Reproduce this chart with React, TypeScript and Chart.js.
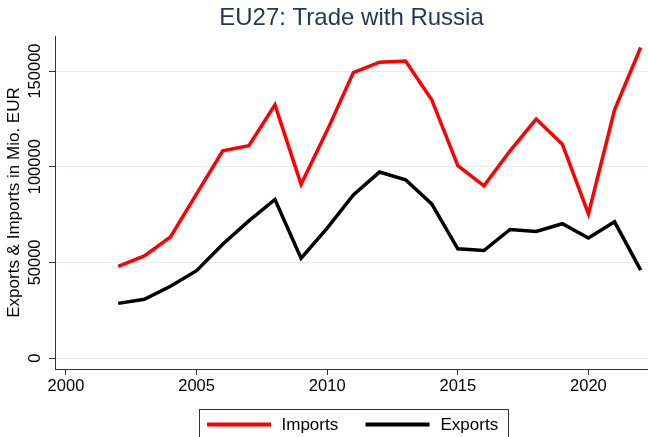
import React, { useEffect, useRef } from "react";
import { Chart, registerables } from "chart.js";

Chart.register(...registerables);

// ---- Data ----
const years = [
  2002, 2003, 2004, 2005, 2006, 2007, 2008, 2009, 2010, 2011, 2012,
  2013, 2014, 2015, 2016, 2017, 2018, 2019, 2020, 2021, 2022,
];
const imports = [
  47900, 53400, 63300, 85800, 108300, 111000, 132300, 90800, 119000, 149200,
  154600, 155200, 135000, 100600, 90000, 108300, 124900, 111800, 75300,
  129700, 162300,
];
const exportsData = [
  28600, 30700, 37500, 45700, 59500, 71700, 82900, 52200, 67900, 85300,
  97200, 93200, 80600, 57100, 56200, 67200, 66200, 70200, 62700, 71200, 46000,
];
const yTicks = [0, 50000, 100000, 150000];
const xTicks = [2000, 2005, 2010, 2015, 2020];
const seriesLabels = ["Imports", "Exports"];
const seriesColors = ["#ff0000", "#000000"];
const titleText = "EU27: Trade with Russia";
const yTitle = "Exports & Imports in Mio. EUR";

const FONT = "'Liberation Sans', Arial, Helvetica, sans-serif";

export default function App() {
  const ref = useRef<HTMLCanvasElement>(null);

  useEffect(() => {
    document.body.style.margin = "0";
    const canvas = ref.current;
    if (!canvas) return;

    const yRotLabels = {
      id: "yRotLabels",
      afterDraw(chart: any) {
        const s = chart.scales.y;
        const c = chart.ctx;
        c.save();
        c.font = `16.5px ${FONT}`;
        c.fillStyle = "#000";
        c.textAlign = "center";
        c.textBaseline = "middle";
        for (const t of s.ticks) {
          const y = s.getPixelForValue(t.value);
          c.save();
          c.translate(35, y);
          c.rotate(-Math.PI / 2);
          c.fillText(String(t.value), 0, 0);
          c.restore();
        }
        c.restore();
      },
    };

    const boxLegend = {
      id: "boxLegend",
      afterDraw(chart: any) {
        const c = chart.ctx;
        c.save();
        c.fillStyle = "#fff";
        c.fillRect(199.5, 409.5, 309, 40);
        c.strokeStyle = "#333";
        c.lineWidth = 1;
        c.strokeRect(199.5, 409.5, 309, 40);
        const slots = [
          { x0: 207, x1: 271, tx: 281.5 },
          { x0: 365.5, x1: 429.5, tx: 440.5 },
        ];
        chart.data.datasets.forEach((ds: any, i: number) => {
          const sl = slots[i];
          c.strokeStyle = ds.borderColor;
          c.lineWidth = 4;
          c.beginPath();
          c.moveTo(sl.x0, 424.5);
          c.lineTo(sl.x1, 424.5);
          c.stroke();
          c.fillStyle = "#000";
          c.font = `17px ${FONT}`;
          c.textAlign = "left";
          c.textBaseline = "middle";
          c.fillText(ds.label, sl.tx, 425);
        });
        c.restore();
      },
    };

    const chart = new Chart(canvas, {
      type: "line",
      data: {
        datasets: [
          {
            label: seriesLabels[0],
            data: years.map((x, i) => ({ x, y: imports[i] })),
            borderColor: seriesColors[0],
            backgroundColor: seriesColors[0],
            borderWidth: 3.5,
            pointRadius: 0,
            tension: 0,
            fill: false,
          },
          {
            label: seriesLabels[1],
            data: years.map((x, i) => ({ x, y: exportsData[i] })),
            borderColor: seriesColors[1],
            backgroundColor: seriesColors[1],
            borderWidth: 3.5,
            pointRadius: 0,
            tension: 0,
            fill: false,
          },
        ],
      },
      options: {
        animation: false,
        responsive: false,
        layout: { padding: 0 },
        plugins: {
          legend: { display: false },
          tooltip: { enabled: false },
          title: {
            display: true,
            text: titleText,
            fullSize: false,
            color: "#27375a",
            font: { family: FONT, size: 24, weight: "normal" },
            padding: { top: 4, bottom: 3.2 },
          },
        },
        scales: {
          x: {
            type: "linear",
            min: 1999.58,
            max: 2022.28,
            afterBuildTicks: (s: any) => {
              s.ticks = xTicks.map((v) => ({ value: v }));
            },
            afterFit: (s: any) => {
              s.height = 68;
            },
            ticks: {
              autoSkip: false,
              maxRotation: 0,
              minRotation: 0,
              padding: 2,
              color: "#000",
              font: { family: FONT, size: 16.5 },
              callback: (v: any) => String(v),
            },
            grid: {
              drawOnChartArea: false,
              drawTicks: true,
              tickLength: 6,
              tickColor: "#333",
              tickWidth: 1,
            },
            border: { color: "#333", width: 1 },
          },
          y: {
            type: "linear",
            min: -5700,
            max: 168300,
            afterBuildTicks: (s: any) => {
              s.ticks = yTicks.map((v) => ({ value: v }));
            },
            afterFit: (s: any) => {
              s.width = 55;
            },
            ticks: { display: false, callback: (v: any) => String(v) },
            grid: {
              color: "#e4ecef",
              lineWidth: 1,
              drawTicks: true,
              tickLength: 6,
              tickColor: "#333",
              tickWidth: 1,
            },
            border: { color: "#333", width: 1 },
            title: {
              display: true,
              text: yTitle,
              color: "#000",
              font: { family: FONT, size: 17 },
              padding: { top: 4, bottom: 0 },
            },
          },
        },
      },
      plugins: [yRotLabels, boxLegend],
    } as any);

    return () => chart.destroy();
  }, []);

  return (
    <canvas
      ref={ref}
      width={648}
      height={437}
      style={{ position: "absolute", left: 0, top: 0 }}
    />
  );
}
